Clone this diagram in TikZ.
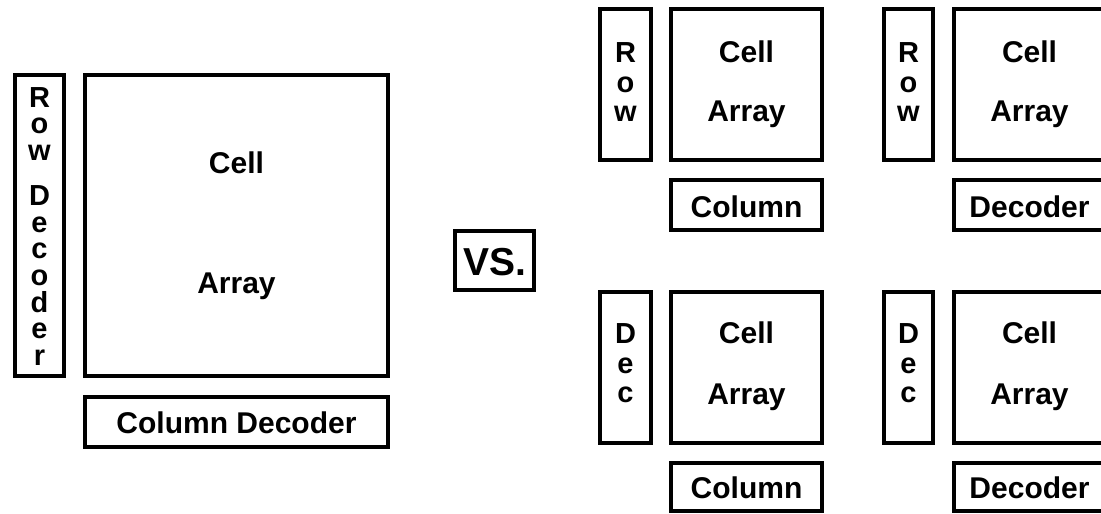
\documentclass[tikz,border=0pt]{standalone}
\usepackage{fontspec}
\setmainfont{Liberation Sans}
\begin{document}
\begin{tikzpicture}[x=1pt,y=-1pt,
  blk/.style={draw=black, line width=4pt, rectangle, inner sep=0pt, outer sep=0pt, fill=none},
  lbl/.style={anchor=base, inner sep=0pt, font=\fontsize{30}{34}\selectfont\bfseries},
  vlbl/.style={anchor=base, inner sep=0pt, font=\fontsize{29}{30}\selectfont\bfseries},
  big/.style={anchor=base, inner sep=0pt, font=\fontsize{39}{44}\selectfont\bfseries}]
\useasboundingbox (0,0) rectangle (1101,514);
\clip (0,0) rectangle (1101,514);

% ---- single large array ----
\node[blk, minimum width=49pt,  minimum height=301pt] (rowdec)  at (39.5,225.5) {};
\node[blk, minimum width=303pt, minimum height=301pt] (array)   at (236.5,225.5) {};
\node[blk, minimum width=303pt, minimum height=50pt]  (coldec)  at (236.5,422) {};
\node[lbl] (arrcell)  at (236.5,173) {Cell};
\node[lbl] (arrarray) at (236.5,293) {Array};
\node[lbl] (coltext)  at (236.5,433) {Column Decoder};
\foreach \ch/\yb [count=\k] in {R/107,o/133.7,w/160.4,D/205.4,e/232.1,c/258.8,o/285.5,d/312.2,e/338.9,r/365.6}
  \node[vlbl] (rd\k) at (39.5,\yb) {\ch};

% ---- comparison sign ----
\node[blk, minimum width=79pt, minimum height=59pt] (vsbox) at (494.5,260.5) {};
\node[big] (vs) at (494.5,275) {VS.};

% ---- four small arrays ----
% top left
\node[blk, minimum width=51pt,  minimum height=151pt] (tlrow)  at (625.5,84.5) {};
\node[blk, minimum width=151pt, minimum height=151pt] (tlarr)  at (746.5,84.5) {};
\node[blk, minimum width=151pt, minimum height=50pt]  (tlcol)  at (746.5,205) {};
\node[lbl] (tlc) at (746.5,62) {Cell};
\node[lbl] (tla) at (746.5,121) {Array};
\node[lbl] (tlt) at (746.5,217) {Column};
\foreach \ch/\yb [count=\k] in {R/62,o/92,w/121}
  \node[vlbl] (tlr\k) at (625.5,\yb) {\ch};

% top right
\node[blk, minimum width=49pt,  minimum height=151pt] (trrow)  at (908.5,84.5) {};
\node[blk, minimum width=151pt, minimum height=151pt] (trarr)  at (1029.5,84.5) {};
\node[blk, minimum width=151pt, minimum height=50pt]  (trcol)  at (1029.5,205) {};
\node[lbl] (trc) at (1029.5,62) {Cell};
\node[lbl] (tra) at (1029.5,121) {Array};
\node[lbl] (trt) at (1029.5,217) {Decoder};
\foreach \ch/\yb [count=\k] in {R/62,o/92,w/121}
  \node[vlbl] (trr\k) at (908.5,\yb) {\ch};

% bottom left
\node[blk, minimum width=51pt,  minimum height=151pt] (blrow)  at (625.5,367.5) {};
\node[blk, minimum width=151pt, minimum height=151pt] (blarr)  at (746.5,367.5) {};
\node[blk, minimum width=151pt, minimum height=48pt]  (blcol)  at (746.5,487) {};
\node[lbl] (blc) at (746.5,343) {Cell};
\node[lbl] (bla) at (746.5,404) {Array};
\node[lbl] (blt) at (746.5,498) {Column};
\foreach \ch/\yb [count=\k] in {D/343,e/373,c/402}
  \node[vlbl] (bld\k) at (625.5,\yb) {\ch};

% bottom right
\node[blk, minimum width=49pt,  minimum height=151pt] (brrow)  at (908.5,367.5) {};
\node[blk, minimum width=151pt, minimum height=151pt] (brarr)  at (1029.5,367.5) {};
\node[blk, minimum width=151pt, minimum height=48pt]  (brcol)  at (1029.5,487) {};
\node[lbl] (brc) at (1029.5,343) {Cell};
\node[lbl] (bra) at (1029.5,404) {Array};
\node[lbl] (brt) at (1029.5,498) {Decoder};
\foreach \ch/\yb [count=\k] in {D/343,e/373,c/402}
  \node[vlbl] (brd\k) at (908.5,\yb) {\ch};
\end{tikzpicture}
\end{document}
